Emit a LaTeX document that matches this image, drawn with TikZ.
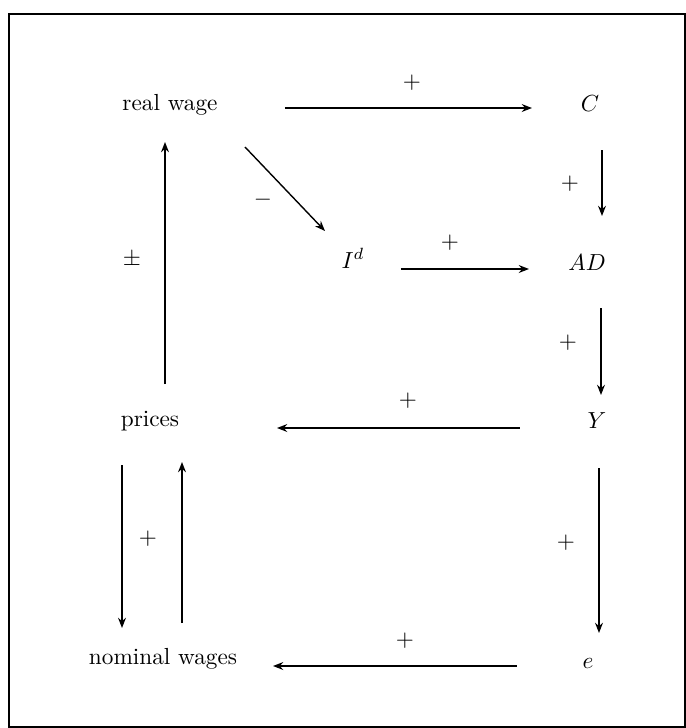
\documentclass[tikz,border=0pt]{standalone}
\usetikzlibrary{arrows.meta}
\begin{document}
\begin{tikzpicture}[x=0.43pt,y=-0.43pt,
  lbl/.style={anchor=base,inner sep=0pt,font=\normalsize},
  sgn/.style={inner sep=0pt},
  arr/.style={line width=0.6pt,-{Stealth[length=4.4pt,width=3.4pt]}},
  frame/.style={line width=0.9pt}]
\useasboundingbox (0,0) rectangle (686,728);
\draw[frame] (9,14) rectangle (685,727);
% nodes
\node[lbl] (rw) at (170,110) {real wage};
\node[lbl] (C) at (590,111) {$C$};
\node[lbl] (Id) at (353,268) {$I^d$};
\node[lbl] (AD) at (587,270) {$AD$};
\node[lbl] (Y) at (597,428) {$Y$};
\node[lbl] (pr) at (150,426) {prices};
\node[lbl] (nw) at (163,664) {nominal wages};
\node[lbl] (e) at (588,668) {$e$};
% connectors
\draw[arr] ([shift={(115,-2)}]rw.base) -- ([shift={(-58,-3)}]C.base);
\draw[arr] ([shift={(12,39)}]C.base) -- ([shift={(15,-54)}]AD.base);
\draw[arr] ([shift={(75,37)}]rw.base) -- ([shift={(-28,-37)}]Id.base);
\draw[arr] ([shift={(48,1)}]Id.base) -- ([shift={(-58,-1)}]AD.base);
\draw[arr] ([shift={(14,38)}]AD.base) -- ([shift={(4,-33)}]Y.base);
\draw[arr] ([shift={(-77,0)}]Y.base) -- ([shift={(127,2)}]pr.base);
\draw[arr] ([shift={(15,-42)}]pr.base) -- ([shift={(-5,32)}]rw.base);
\draw[arr] ([shift={(-28,39)}]pr.base) -- ([shift={(-41,-36)}]nw.base);
\draw[arr] ([shift={(19,-41)}]nw.base) -- ([shift={(32,36)}]pr.base);
\draw[arr] ([shift={(2,40)}]Y.base) -- ([shift={(11,-35)}]e.base);
\draw[arr] ([shift={(-71,-2)}]e.base) -- ([shift={(110,2)}]nw.base);
% signs
\node[sgn] (s1) at (412,83) {$+$};
\node[sgn] (s2) at (570,184) {$+$};
\node[sgn] (s3) at (263,200) {$-$};
\node[sgn] (s4) at (450,243) {$+$};
\node[sgn] (s5) at (568,343) {$+$};
\node[sgn] (s6) at (408,401) {$+$};
\node[sgn] (s7) at (132,260) {$\pm$};
\node[sgn] (s8) at (148,539) {$+$};
\node[sgn] (s9) at (566,543) {$+$};
\node[sgn] (s10) at (405,641) {$+$};
\end{tikzpicture}
\end{document}
